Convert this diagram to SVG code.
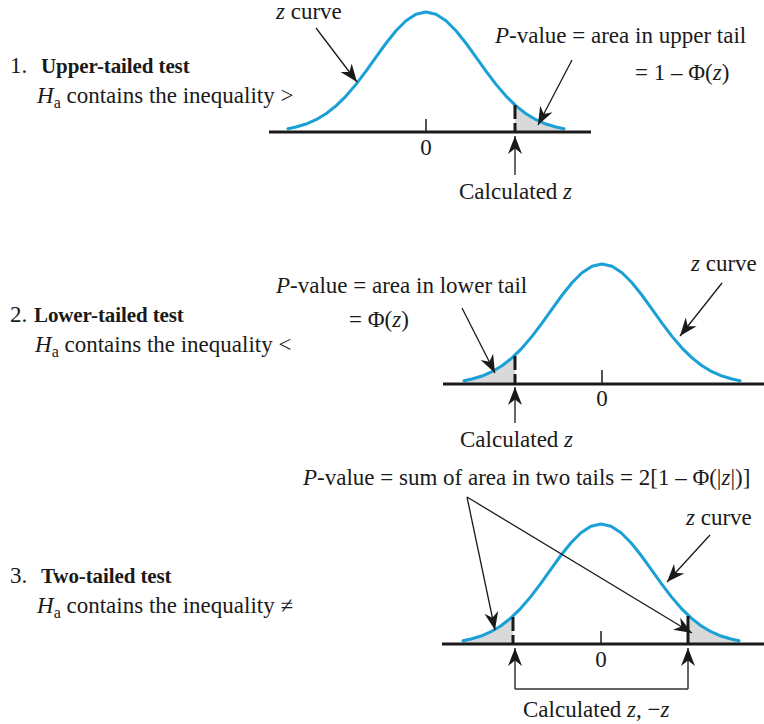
<svg xmlns="http://www.w3.org/2000/svg" xmlns:xlink="http://www.w3.org/1999/xlink" width="764" height="724" viewBox="0 0 764 724">
<style>
text{font-family:"Liberation Serif","Times New Roman",serif;font-size:23px;fill:#1a1a1a;letter-spacing:0}
.b{font-weight:bold;font-size:21px;letter-spacing:-0.1px}
.i{font-style:italic}
.c{text-anchor:middle}
.curve{fill:none;stroke:#1aa0d6;stroke-width:3;stroke-linejoin:round;stroke-linecap:round}
.shade{fill:#d9d9d9;stroke:none}
.axis{stroke:#1a1a1a;stroke-width:3}
.tick{stroke:#1a1a1a;stroke-width:1.5}
.dash{stroke:#1a1a1a;stroke-width:3;stroke-dasharray:14 4}
.solid{stroke:#1a1a1a;stroke-width:3}
.ptr{stroke:#1a1a1a;stroke-width:1.3;fill:none;marker-end:url(#ah)}
.up{stroke:#333;stroke-width:1.5;fill:none;marker-end:url(#ah)}
</style>
<defs>
<marker id="ah" viewBox="-19 -8 20 16" refX="0" refY="0" markerWidth="20" markerHeight="16" markerUnits="userSpaceOnUse" orient="auto">
<path d="M0,0 L-18,-7 L-12.5,0 L-18,7 Z" fill="#1a1a1a"/>
</marker>
<path id="gauss" class="curve" d="M-138,-3.31 L-130,-4.96 L-120,-7.95 L-110,-12.26 L-100,-18.22 L-90,-26.06 L-80,-35.91 L-70,-47.64 L-60,-60.88 L-50,-74.91 L-40,-88.75 L-30,-101.27 L-20,-111.29 L-10,-117.76 L0,-120 L10,-117.76 L20,-111.29 L30,-101.27 L40,-88.75 L50,-74.91 L60,-60.88 L70,-47.64 L80,-35.91 L90,-26.06 L100,-18.22 L110,-12.26 L120,-7.95 L130,-4.96 L138,-3.31"/>
</defs>

<g id="panel1">
<text x="10" y="73">1.</text>
<text x="41" y="73" class="b">Upper-tailed test</text>
<text x="37" y="103"><tspan class="i">H</tspan><tspan font-size="16" dy="5">a</tspan><tspan dy="-5"> contains the inequality &gt;</tspan></text>
<g transform="translate(426,132)">
<path class="shade" d="M89,0 L89,-26.95 L90,-26.06 L100,-18.22 L110,-12.26 L120,-7.95 L130,-4.96 L138,-3.31 L138,0 Z"/>
<use xlink:href="#gauss"/>
</g>
<line class="axis" x1="269" y1="132" x2="591" y2="132"/>
<line class="tick" x1="426" y1="119" x2="426" y2="132"/>
<line class="dash" x1="515" y1="105" x2="515" y2="131"/>
<text x="426" y="155" class="c">0</text>
<text x="276" y="19"><tspan class="i">z</tspan> curve</text>
<text x="495" y="43"><tspan class="i">P</tspan>-value = area in upper tail</text>
<text x="635" y="80">= 1 – Φ(<tspan class="i">z</tspan>)</text>
<text x="459" y="199">Calculated <tspan class="i">z</tspan></text>
</g>

<g id="panel2">
<text x="10" y="322">2.</text>
<text x="34" y="322" class="b">Lower-tailed test</text>
<text x="35" y="352"><tspan class="i">H</tspan><tspan font-size="16" dy="5">a</tspan><tspan dy="-5"> contains the inequality &lt;</tspan></text>
<g transform="translate(602,384)">
<path class="shade" d="M-87,0 L-87,-28.8 L-90,-26.06 L-100,-18.22 L-110,-12.26 L-120,-7.95 L-130,-4.96 L-138,-3.31 L-138,0 Z"/>
<use xlink:href="#gauss"/>
</g>
<line class="axis" x1="443" y1="384" x2="764" y2="384"/>
<line class="tick" x1="602" y1="370" x2="602" y2="384"/>
<line class="dash" x1="515" y1="356" x2="515" y2="383"/>
<text x="602" y="406" class="c">0</text>
<text x="691" y="271"><tspan class="i">z</tspan> curve</text>
<text x="276" y="293"><tspan class="i">P</tspan>-value = area in lower tail</text>
<text x="349" y="327">= Φ(<tspan class="i">z</tspan>)</text>
<text x="460" y="447">Calculated <tspan class="i">z</tspan></text>
</g>

<g id="panel3">
<text x="10" y="583">3.</text>
<text x="41" y="583" class="b">Two-tailed test</text>
<text x="37" y="613"><tspan class="i">H</tspan><tspan font-size="16" dy="5">a</tspan><tspan dy="-5"> contains the inequality ≠</tspan></text>
<g transform="translate(601,644)">
<path class="shade" d="M-88,0 L-88,-27.88 L-90,-26.06 L-100,-18.22 L-110,-12.26 L-120,-7.95 L-130,-4.96 L-138,-3.31 L-138,0 Z"/>
<path class="shade" d="M87,0 L87,-28.8 L90,-26.06 L100,-18.22 L110,-12.26 L120,-7.95 L130,-4.96 L138,-3.31 L138,0 Z"/>
<use xlink:href="#gauss"/>
</g>
<line class="axis" x1="442" y1="644" x2="764" y2="644"/>
<line class="tick" x1="601" y1="631" x2="601" y2="644"/>
<line class="dash" x1="513" y1="617" x2="513" y2="643"/>
<line class="solid" x1="688" y1="616" x2="688" y2="643"/>
<text x="601" y="667" class="c">0</text>
<text x="686" y="525"><tspan class="i">z</tspan> curve</text>
<text x="303" y="485"><tspan class="i">P</tspan>-value = sum of area in two tails = 2[1 – Φ(|<tspan class="i">z</tspan>|)]</text>
<text x="523" y="717">Calculated <tspan class="i">z</tspan>, −<tspan class="i">z</tspan></text>
</g>

<g id="connectors">
<line class="ptr" x1="316" y1="28" x2="357" y2="82"/>
<line class="ptr" x1="572" y1="60" x2="538" y2="125"/>
<line class="up" x1="515" y1="175" x2="515" y2="136"/>
<line class="ptr" x1="722" y1="283" x2="680" y2="336"/>
<line class="ptr" x1="462" y1="308" x2="495" y2="373"/>
<line class="up" x1="515" y1="423" x2="515" y2="387"/>
<line class="ptr" x1="710" y1="535" x2="667" y2="582"/>
<line class="ptr" x1="467" y1="497" x2="495" y2="630"/>
<line class="ptr" x1="467" y1="497" x2="692" y2="633"/>
<path class="up" d="M515,689 L515,648"/>
<path class="up" d="M688,689 L688,648"/>
<path stroke="#333" stroke-width="1.5" fill="none" d="M515,689 L688,689"/>
</g>
</svg>
